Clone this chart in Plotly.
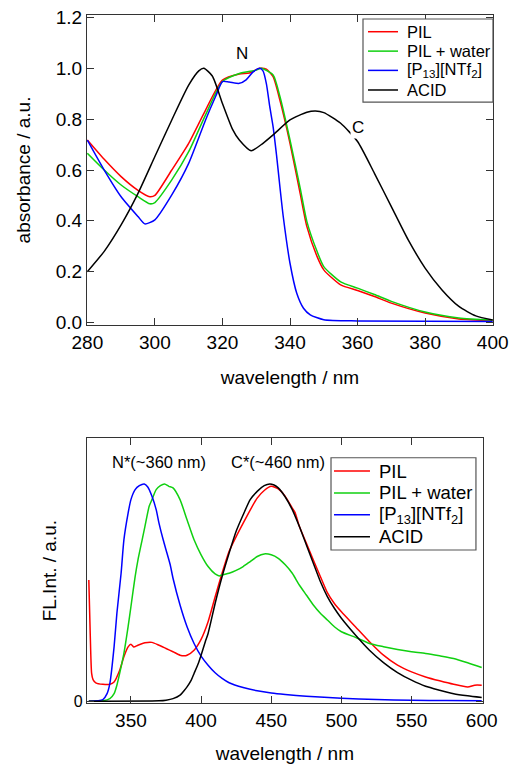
import plotly.graph_objects as go
from plotly.subplots import make_subplots

# --- absorption spectra (top) ---
abs_nm_pil = [280, 285, 290, 295, 298.5, 300, 305, 310, 315, 320, 325, 328, 331, 333, 335, 337,
              340, 343, 345, 348, 350, 355, 360, 365, 370, 380, 390, 400]
abs_pil = [0.718, 0.642, 0.574, 0.52, 0.495, 0.50, 0.60, 0.705, 0.836, 0.954, 0.978, 0.982, 1.0, 0.997,
           0.967, 0.875, 0.705, 0.508, 0.377, 0.26, 0.207, 0.148, 0.126, 0.102, 0.076, 0.037, 0.014, 0.008]

abs_nm_water = [280, 285, 290, 295, 298.5, 300, 305, 310, 315, 320, 325, 330, 331.5, 335, 337,
                340, 343, 345, 348, 350, 355, 360, 365, 370, 380, 390, 400]
abs_water = [0.666, 0.60, 0.541, 0.495, 0.467, 0.472, 0.561, 0.672, 0.817, 0.948, 0.98, 0.993, 1.0, 0.974,
             0.89, 0.718, 0.53, 0.397, 0.28, 0.22, 0.16, 0.135, 0.11, 0.083, 0.041, 0.018, 0.01]

abs_nm_p13 = [280, 285, 290, 295, 297, 300, 305, 310, 315, 318, 320, 322, 325, 327, 329, 331, 332,
              333, 334, 335, 336, 337, 338, 340, 342, 344, 346, 350, 360, 400]
abs_p13 = [0.718, 0.60, 0.495, 0.417, 0.388, 0.404, 0.502, 0.626, 0.797, 0.89, 0.948, 0.946, 0.941,
           0.955, 0.985, 1.0, 0.99, 0.94, 0.85, 0.77, 0.66, 0.535, 0.417, 0.233, 0.115, 0.056, 0.03,
           0.011, 0.006, 0.004]

abs_nm_acid = [280, 285, 290, 295, 300, 305, 310, 313, 314.5, 317, 320, 323, 325, 328.5, 332, 335,
               340, 345, 347.5, 350, 355, 360, 365, 370, 375, 380, 385, 390, 395, 400]
abs_acid = [0.2, 0.28, 0.384, 0.508, 0.653, 0.797, 0.934, 0.99, 1.0, 0.97, 0.862, 0.76, 0.718, 0.676,
            0.705, 0.738, 0.797, 0.827, 0.832, 0.826, 0.784, 0.712, 0.587, 0.456, 0.325, 0.214, 0.128,
            0.063, 0.026, 0.01]

# --- fluorescence spectra (bottom) ---
fl_nm_pil = [320, 321, 322, 323, 325, 330, 335, 338, 342, 345, 348, 350, 352, 355, 360, 365, 370, 375,
             380, 385, 388, 390, 395, 400, 405, 410, 415, 420, 425, 430, 435, 440, 445, 450, 455, 460,
             465, 467, 470, 475, 480, 485, 490, 495, 500, 510, 520, 530, 540, 550, 560, 570, 580, 590,
             595, 600]
fl_pil = [0.558, 0.31, 0.128, 0.10, 0.085, 0.078, 0.078, 0.089, 0.143, 0.205, 0.25, 0.262, 0.25, 0.258,
          0.269, 0.271, 0.258, 0.243, 0.228, 0.212, 0.209, 0.212, 0.235, 0.285, 0.366, 0.48, 0.59, 0.69,
          0.758, 0.82, 0.88, 0.935, 0.97, 0.989, 0.977, 0.943, 0.889, 0.868, 0.805, 0.728, 0.65, 0.574,
          0.5, 0.45, 0.412, 0.343, 0.274, 0.212, 0.166, 0.135, 0.112, 0.094, 0.078, 0.066, 0.074, 0.074]

fl_nm_water = [320, 330, 335, 338, 340, 343, 345, 348, 350, 353, 355, 358, 360, 363, 365, 368, 371, 374,
               377, 380, 385, 390, 395, 400, 405, 410, 413, 415, 420, 425, 430, 435, 440, 445, 450, 455,
               460, 465, 470, 475, 480, 485, 490, 495, 500, 510, 520, 530, 540, 550, 560, 570, 580, 590,
               600]
fl_water = [0.0, 0.002, 0.012, 0.035, 0.074, 0.158, 0.22, 0.343, 0.435, 0.574, 0.65, 0.743, 0.805, 0.897,
            0.928, 0.974, 0.992, 1.0, 0.989, 0.982, 0.928, 0.835, 0.743, 0.674, 0.62, 0.586, 0.577, 0.582,
            0.589, 0.602, 0.62, 0.643, 0.666, 0.678, 0.674, 0.658, 0.628, 0.589, 0.535, 0.489, 0.443,
            0.405, 0.374, 0.343, 0.32, 0.294, 0.266, 0.251, 0.238, 0.228, 0.22, 0.209, 0.197, 0.177, 0.155]

fl_nm_p13 = [320, 330, 333, 335, 338, 340, 343, 345, 348, 350, 353, 356, 359.5, 362, 365, 368, 370, 373,
             375, 378, 380, 385, 390, 395, 400, 405, 410, 415, 420, 430, 440, 450, 460, 475, 500, 525,
             550, 575, 600]
fl_p13 = [0.0, 0.008, 0.035, 0.082, 0.25, 0.405, 0.589, 0.743, 0.866, 0.928, 0.974, 0.992, 1.0, 0.986,
          0.943, 0.882, 0.82, 0.743, 0.697, 0.628, 0.566, 0.443, 0.343, 0.266, 0.208, 0.166, 0.131, 0.105,
          0.085, 0.063, 0.048, 0.038, 0.031, 0.023, 0.014, 0.008, 0.005, 0.003, 0.002]

fl_nm_acid = [320, 370, 375, 380, 385, 388, 390, 393, 395, 398, 400, 403, 405, 410, 415, 420, 425, 430,
              435, 440, 445, 449, 452, 455, 460, 465, 470, 475, 480, 485, 490, 495, 500, 510, 520, 530,
              540, 550, 560, 570, 580, 590, 600]
fl_acid = [0.0, 0.002, 0.005, 0.012, 0.028, 0.05, 0.066, 0.097, 0.128, 0.174, 0.212, 0.274, 0.312, 0.45,
           0.574, 0.682, 0.782, 0.858, 0.928, 0.966, 0.992, 1.0, 0.995, 0.982, 0.94, 0.882, 0.805, 0.72,
           0.635, 0.551, 0.482, 0.428, 0.382, 0.305, 0.235, 0.178, 0.132, 0.097, 0.069, 0.051, 0.035,
           0.025, 0.017]

noms = ["PIL", "PIL + water", "[P<sub>13</sub>][NTf<sub>2</sub>]", "ACID"]
couleurs = ["#ff0000", "#10d010", "#0000ff", "#000000"]
police = "Liberation Sans, Arial, sans-serif"

fig = make_subplots(rows=2, cols=1)

haut = [(abs_nm_pil, abs_pil), (abs_nm_water, abs_water), (abs_nm_p13, abs_p13), (abs_nm_acid, abs_acid)]
bas = [(fl_nm_pil, fl_pil), (fl_nm_water, fl_water), (fl_nm_p13, fl_p13), (fl_nm_acid, fl_acid)]

for nom, couleur, (x, y) in zip(noms, couleurs, haut):
    fig.add_trace(go.Scatter(x=x, y=y, mode="lines", name=nom, showlegend=False,
                             line=dict(color=couleur, width=1.5, shape="spline", smoothing=0.6)),
                  row=1, col=1)
for nom, couleur, (x, y) in zip(noms, couleurs, bas):
    fig.add_trace(go.Scatter(x=x, y=y, mode="lines", name=nom, showlegend=False,
                             line=dict(color=couleur, width=1.5, shape="spline", smoothing=0.6)),
                  row=2, col=1)


# légendes compactes (cadre + traits + textes) en coordonnées papier
def legende(fig, boite, y_items, x_trait, x_texte, taille):
    x0, x1, y0, y1 = boite
    fig.add_shape(type="rect", xref="paper", yref="paper", x0=x0, x1=x1, y0=y0, y1=y1,
                  fillcolor="white", line=dict(color="#555555", width=1.2))
    for nom, couleur, yy in zip(noms, couleurs, y_items):
        fig.add_shape(type="line", xref="paper", yref="paper", x0=x_trait[0], x1=x_trait[1],
                      y0=yy, y1=yy, line=dict(color=couleur, width=1.5))
        fig.add_annotation(xref="paper", yref="paper", x=x_texte, y=yy, text=nom, showarrow=False,
                           xanchor="left", yanchor="middle", font=dict(size=taille))


legende(fig, (0.6798, 1.0, 0.8735, 0.9942), [0.9757, 0.9475, 0.9195, 0.8910],
        (0.6921, 0.766), 0.7833, 16.5)
legende(fig, (0.601, 0.958, 0.2224, 0.3565), [0.3372, 0.3054, 0.2735, 0.2417],
        (0.6084, 0.697), 0.7143, 18.5)

axe = dict(showline=True, linecolor="#333333", linewidth=1.3, mirror="ticks", ticks="inside",
           ticklen=7, tickcolor="#333333", tickwidth=1.3, showgrid=False, zeroline=False,
           automargin=False, ticklabeloverflow="allow", tickfont=dict(size=19, color="black"))

fig.update_layout(
    width=509, height=756,
    margin=dict(l=79, r=24, t=7, b=61),
    plot_bgcolor="white", paper_bgcolor="white",
    font=dict(family=police, color="black"),
    xaxis=dict(axe, domain=[0, 1], range=[279.9, 400.1], dtick=20, tick0=280,
               title=dict(text="wavelength / nm", font=dict(size=19), standoff=18)),
    yaxis=dict(axe, domain=[0.5494, 1], range=[-0.01, 1.21], tickvals=[0, 0.2, 0.4, 0.6, 0.8, 1.0, 1.2],
               tickformat=".1f", title=dict(text="absorbance / a.u.", font=dict(size=19), standoff=19)),
    xaxis2=dict(axe, domain=[0, 0.9746], range=[318.7, 600.7], tickvals=[350, 400, 450, 500, 550, 600],
                title=dict(text="wavelength / nm", font=dict(size=19), standoff=20)),
    yaxis2=dict(axe, domain=[0, 0.3847], range=[-0.008, 1.21], tickvals=[0], ticktext=["0"],
                tickfont=dict(size=16, color="black"),
                title=dict(text="FL.Int. / a.u.", font=dict(size=19), standoff=12)),
)

fig.add_annotation(x=325.8, y=1.06, xref="x", yref="y", text="N", showarrow=False, font=dict(size=17))
fig.add_annotation(x=360.1, y=0.769, xref="x", yref="y", text="C", showarrow=False, font=dict(size=17),
                   bgcolor="white")
fig.add_annotation(x=370, y=1.103, xref="x2", yref="y2", text="N*(~360 nm)", showarrow=False,
                   font=dict(size=16.5))
fig.add_annotation(x=454.7, y=1.103, xref="x2", yref="y2", text="C*(~460 nm)", showarrow=False,
                   font=dict(size=16.5))

fig.write_html("out.html")
